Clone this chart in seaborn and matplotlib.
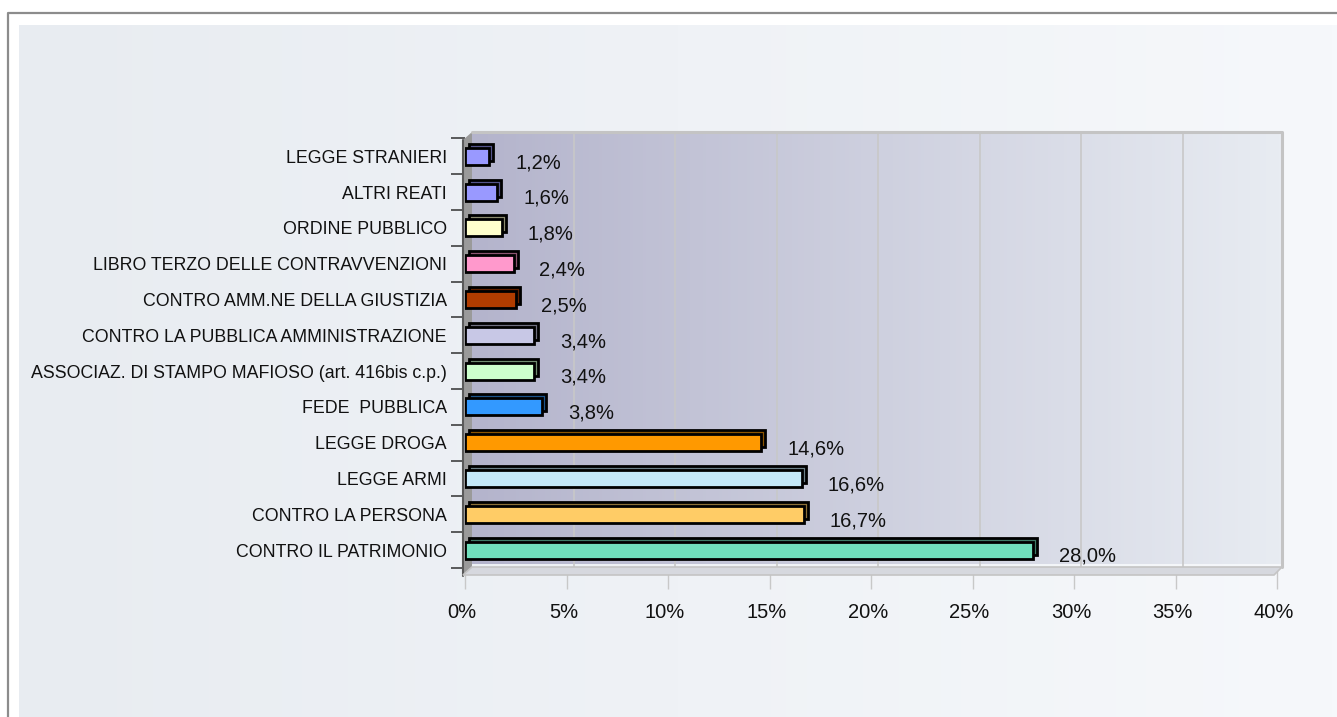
import numpy as np
import pandas as pd
import matplotlib
matplotlib.use("Agg")
import matplotlib.pyplot as plt
from matplotlib.patches import Polygon
from matplotlib.transforms import ScaledTranslation
from matplotlib.colors import to_rgb
import seaborn as sns

categories = [
    "LEGGE STRANIERI",
    "ALTRI REATI",
    "ORDINE PUBBLICO",
    "LIBRO TERZO DELLE CONTRAVVENZIONI",
    "CONTRO AMM.NE DELLA GIUSTIZIA",
    "CONTRO LA PUBBLICA AMMINISTRAZIONE",
    "ASSOCIAZ. DI STAMPO MAFIOSO (art. 416bis c.p.)",
    "FEDE  PUBBLICA",
    "LEGGE DROGA",
    "LEGGE ARMI",
    "CONTRO LA PERSONA",
    "CONTRO IL PATRIMONIO",
]
values = [1.2, 1.6, 1.8, 2.4, 2.5, 3.4, 3.4, 3.8, 14.6, 16.6, 16.7, 28.0]
bar_colors = ["#9999ff", "#9999ff", "#ffffcc", "#ff99cc", "#b03c00", "#c8c8e6",
              "#ccffcc", "#3399ff", "#ff9900", "#c4e8f8", "#ffcc66", "#70dfbc"]
x_ticks = [0, 5, 10, 15, 20, 25, 30, 35, 40]
x_tick_labels = [f"{t}%" for t in x_ticks]

df = pd.DataFrame({"cat": categories, "val": values})

W, H = 1337, 717
sns.set_theme(style="white")
plt.rcParams["font.family"] = ["Liberation Sans", "DejaVu Sans"]

fig = plt.figure(figsize=(W / 100, H / 100), dpi=100)
fig.patch.set_facecolor("white")


def fx(x):
    return x / W


def fy(y):
    return 1 - y / H


# outer panel with light gradient
bg = fig.add_axes([fx(19), 0, 1 - fx(19), fy(25)])
grad = np.linspace(0, 1, 256)[None, :]
c0 = np.array(to_rgb("#e8ecf1"))
c1 = np.array(to_rgb("#f6f8fb"))
img = c0[None, None, :] * (1 - grad[..., None]) + c1[None, None, :] * grad[..., None]
bg.imshow(img, aspect="auto", extent=[0, 1, 0, 1])
bg.set_axis_off()
fig.add_artist(plt.Line2D([fx(8), fx(8), 1.0], [0, fy(13), fy(13)],
                          transform=fig.transFigure, color="#8c8c8c", lw=1.6))

# main axes: 0% at x=465, 20.3 px per %
left_px, right_px = 465, 1282
top_px, bot_px = 132, 568
ax = fig.add_axes([fx(left_px), fy(bot_px), fx(right_px - left_px), (bot_px - top_px) / H])
ax.set_facecolor("none")
xmax = (right_px - left_px) / 20.3

c_top, c_step = 156.5, 36.1
ylim_top = -(c_top - top_px) / c_step
ylim_bot = 11 + (bot_px - (c_top + 11 * c_step)) / c_step

# back wall gradient
wall0 = (472 - left_px) / 20.3
g0 = np.array(to_rgb("#b4b4cc"))
g1 = np.array(to_rgb("#e8ecf2"))
wimg = g0[None, None, :] * (1 - grad[..., None]) + g1[None, None, :] * grad[..., None]
ax.imshow(wimg, aspect="auto", extent=[wall0, xmax, ylim_bot, ylim_top], zorder=0)

depth = ScaledTranslation(4 / 100, 4 / 100, fig.dpi_scale_trans)
dark_colors = [tuple(np.array(to_rgb(c)) * 0.55) for c in bar_colors]

# depth (3D) copy of bars
sns.barplot(data=df, x="val", y="cat", hue="cat", palette=dark_colors, legend=False,
            orient="h", width=0.48, saturation=1, edgecolor="black", linewidth=2,
            ax=ax, zorder=3)
for p in ax.patches:
    p.set_transform(ax.transData + depth)
# front bars
sns.barplot(data=df, x="val", y="cat", hue="cat", palette=bar_colors, legend=False,
            orient="h", width=0.48, saturation=1, edgecolor="black", linewidth=2,
            ax=ax, zorder=4)

ax.set_xlim(0, xmax)
ax.set_ylim(ylim_bot, ylim_top)

# grid lines on back wall
for t in x_ticks[1:-1]:
    ln = ax.axvline(t, color="#c8c8c8", lw=1.2, zorder=1)
    ln.set_transform(ln.get_transform() + ScaledTranslation(7 / 100, 0, fig.dpi_scale_trans))

T = fig.transFigure
ax.add_patch(Polygon([(fx(463), fy(140)), (fx(472), fy(132)), (fx(472), fy(568)), (fx(463), fy(575))],
                     closed=True, transform=T, facecolor="#9a9a9a", edgecolor="none",
                     clip_on=False, zorder=2))
ax.add_artist(plt.Line2D([fx(463), fx(463)], [fy(140), fy(576)], transform=T,
                         color="#5a5a5a", lw=1.5, clip_on=False, zorder=2))
ax.add_patch(Polygon([(fx(472), fy(567)), (fx(1282), fy(567)), (fx(1274), fy(575)), (fx(463), fy(575))],
                     closed=True, transform=T, facecolor="#d6d8de", edgecolor="#c4c4c4", lw=1.2,
                     clip_on=False, zorder=2))
ax.add_artist(plt.Line2D([fx(472), fx(1282), fx(1282)], [fy(132), fy(132), fy(567)], transform=T,
                         color="#c4c4c4", lw=2.2, clip_on=False, zorder=2))

for s in ax.spines.values():
    s.set_visible(False)

ax.set_xticks(x_ticks)
ax.set_xticklabels(x_tick_labels, fontsize=14.5, color="#111111")
ax.tick_params(axis="x", length=15, width=1, color="#c8c8c8", pad=10, bottom=True)
for lab in ax.get_xticklabels():
    lab.set_transform(lab.get_transform() + ScaledTranslation(-3 / 100, 0, fig.dpi_scale_trans))
ax.set_yticks(range(len(categories)))
ax.set_yticklabels(categories, fontsize=12.8, color="#111111")
ax.tick_params(axis="y", length=0, pad=13, left=False)
ax.set_yticks([i + 0.5 for i in range(-1, len(categories))], minor=True)
ax.tick_params(axis="y", which="minor", length=10, width=1.2, color="#404040", left=True)
ax.set_xlabel("")
ax.set_ylabel("")

for i, v in enumerate(values):
    ax.annotate(f"{v:.1f}".replace(".", ",") + "%", xy=(v, i), xytext=(18.5, -4.5),
                textcoords="offset points", ha="left", va="center", fontsize=14.5,
                color="#111111", zorder=6, annotation_clip=False)

fig.savefig("out.png", dpi=100)
